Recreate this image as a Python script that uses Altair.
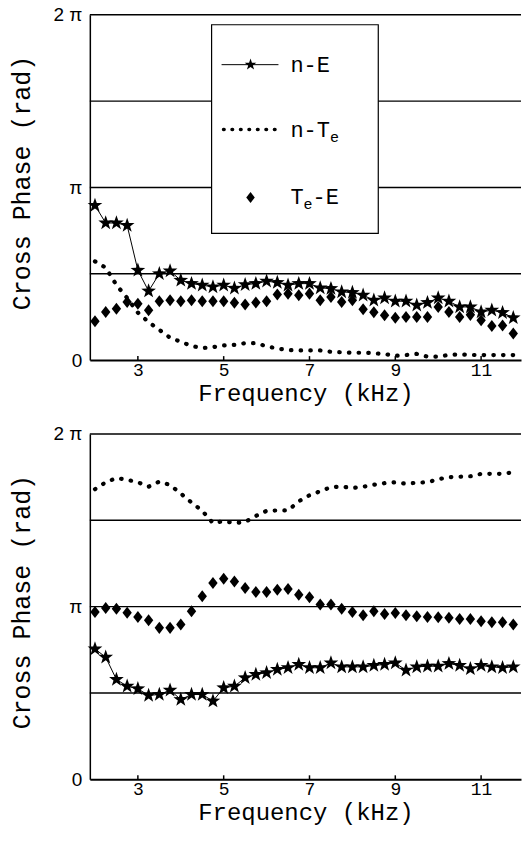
import altair as alt
import pandas as pd

# Frequency grid (kHz)
freq = [2.0, 2.25, 2.5, 2.75, 3.0, 3.25, 3.5, 3.75, 4.0, 4.25,
        4.5, 4.75, 5.0, 5.25, 5.5, 5.75, 6.0, 6.25, 6.5, 6.75,
        7.0, 7.25, 7.5, 7.75, 8.0, 8.25, 8.5, 8.75, 9.0, 9.25,
        9.5, 9.75, 10.0, 10.25, 10.5, 10.75, 11.0, 11.25, 11.5, 11.75]

# Cross phase in units of pi -- upper panel
top_ne = [0.896, 0.794, 0.794, 0.780, 0.520, 0.400, 0.500, 0.516, 0.462, 0.443,
          0.434, 0.424, 0.434, 0.416, 0.437, 0.443, 0.457, 0.449, 0.434, 0.443,
          0.443, 0.418, 0.414, 0.395, 0.391, 0.376, 0.347, 0.360, 0.341, 0.341,
          0.318, 0.333, 0.360, 0.341, 0.308, 0.308, 0.279, 0.289, 0.275, 0.245]
top_nte = [0.572, 0.535, 0.435, 0.360, 0.275, 0.220, 0.175, 0.130, 0.106, 0.082,
           0.070, 0.075, 0.085, 0.088, 0.098, 0.098, 0.080, 0.067, 0.058, 0.056,
           0.056, 0.056, 0.048, 0.045, 0.042, 0.043, 0.040, 0.035, 0.025, 0.029,
           0.036, 0.020, 0.020, 0.030, 0.033, 0.030, 0.029, 0.029, 0.029, 0.029]
top_tee = [0.225, 0.279, 0.298, 0.337, 0.327, 0.289, 0.341, 0.347, 0.341, 0.347,
           0.341, 0.341, 0.341, 0.332, 0.322, 0.333, 0.341, 0.380, 0.385, 0.376,
           0.385, 0.347, 0.366, 0.337, 0.347, 0.295, 0.277, 0.260, 0.245, 0.250,
           0.250, 0.250, 0.308, 0.279, 0.250, 0.262, 0.231, 0.198, 0.200, 0.154]

# Cross phase in units of pi -- lower panel
bot_ne = [0.755, 0.707, 0.578, 0.539, 0.524, 0.486, 0.491, 0.516, 0.462, 0.491,
          0.491, 0.453, 0.530, 0.539, 0.588, 0.607, 0.617, 0.636, 0.646, 0.665,
          0.646, 0.646, 0.674, 0.651, 0.651, 0.651, 0.659, 0.665, 0.674, 0.632,
          0.651, 0.655, 0.655, 0.670, 0.659, 0.640, 0.659, 0.651, 0.646, 0.651]
bot_nte = [1.680, 1.720, 1.745, 1.735, 1.720, 1.695, 1.724, 1.705, 1.655, 1.603,
           1.555, 1.484, 1.495, 1.484, 1.490, 1.525, 1.555, 1.557, 1.557, 1.610,
           1.645, 1.668, 1.692, 1.695, 1.687, 1.694, 1.706, 1.715, 1.720, 1.712,
           1.718, 1.720, 1.738, 1.750, 1.752, 1.755, 1.769, 1.769, 1.769, 1.778]
bot_tee = [0.969, 0.992, 0.988, 0.964, 0.940, 0.921, 0.877, 0.877, 0.896, 0.973,
           1.060, 1.137, 1.162, 1.145, 1.108, 1.085, 1.085, 1.098, 1.102, 1.069,
           1.054, 1.012, 1.012, 0.988, 0.969, 0.950, 0.973, 0.958, 0.963, 0.950,
           0.944, 0.940, 0.938, 0.935, 0.929, 0.929, 0.915, 0.909, 0.909, 0.896]

x_ticks = [3, 5, 7, 9, 11]
y_ticks = [0, 1, 2]
ref_levels = [0.5, 1.0, 1.5, 2.0]

W, H = 432, 346
MONO = "'Courier New', 'Liberation Mono', Courier, monospace"
STAR = ("M0,-1L0.235,-0.324L0.951,-0.309L0.380,0.124L0.588,0.809L0,0.4"
        "L-0.588,0.809L-0.380,0.124L-0.951,-0.309L-0.235,-0.324Z")
DIAMOND = "M0,-1L0.78,0L0,1L-0.78,0Z"

xscale = alt.Scale(domain=[1.88, 11.93], nice=False, zero=False)
yscale = alt.Scale(domain=[0, 2], nice=False, zero=False)

xaxis = alt.Axis(values=x_ticks, ticks=False, tickSize=0, grid=False,
                 domainColor="black", domainWidth=2,
                 labelFont=MONO, labelFontSize=18, labelColor="black",
                 labelPadding=1, labelFlush=False,
                 title="Frequency (kHz)", titleFont=MONO, titleFontSize=24,
                 titleFontWeight="normal", titleColor="black",
                 titleBaseline="alphabetic", titleY=40)
yaxis = alt.Axis(values=y_ticks, ticks=False, tickSize=0, grid=False,
                 domainColor="black", domainWidth=1.5,
                 labelExpr="datum.value == 0 ? '0' : datum.value == 1 ? 'π' : '2 π'",
                 labelFont="Liberation Sans", labelFontSize=19, labelColor="black",
                 labelPadding=8,
                 title="Cross Phase (rad)", titleFont=MONO, titleFontSize=25,
                 titleFontWeight="normal", titleColor="black",
                 titleAngle=270, titleAlign="center", titleBaseline="middle",
                 titleX=-68, titleY=168)


def panel(ne, nte, tee, legend=False):
    df = pd.DataFrame({"f": freq, "ne": ne, "nte": nte, "tee": tee})
    X = alt.X("f:Q", scale=xscale, axis=xaxis)

    rules = alt.Chart(pd.DataFrame({"lvl": ref_levels})).mark_rule(
        color="black", strokeWidth=1.4
    ).encode(y=alt.Y("lvl:Q", scale=yscale, axis=yaxis))

    ticks = alt.Chart(pd.DataFrame({"t": x_ticks})).mark_rule(
        color="black", strokeWidth=1.5
    ).encode(x=alt.X("t:Q", scale=xscale, axis=xaxis),
             y=alt.value(H), y2=alt.value(H - 4))

    dotted = alt.Chart(df).mark_line(
        color="black", strokeWidth=4.2, strokeCap="round", strokeDash=[0.5, 9.2]
    ).encode(x=X, y=alt.Y("nte:Q", scale=yscale, axis=yaxis))

    ne_line = alt.Chart(df).mark_line(color="black", strokeWidth=1).encode(
        x=X, y=alt.Y("ne:Q", scale=yscale, axis=yaxis))
    ne_pts = alt.Chart(df).mark_point(
        shape=STAR, filled=True, color="black", opacity=1, size=240
    ).encode(x=X, y=alt.Y("ne:Q", scale=yscale, axis=yaxis))

    tee_pts = alt.Chart(df).mark_point(
        shape=DIAMOND, filled=True, color="black", opacity=1, size=145
    ).encode(x=X, y=alt.Y("tee:Q", scale=yscale, axis=yaxis))

    layers = [rules, ticks, dotted, ne_line, ne_pts, tee_pts]

    if legend:
        one = alt.Chart(pd.DataFrame({"k": [0]}))
        box = one.mark_rect(fill="white", stroke="black", strokeWidth=1.2).encode(
            x=alt.value(122), x2=alt.value(289), y=alt.value(10), y2=alt.value(219))
        l1 = one.mark_rule(color="black", strokeWidth=1).encode(
            x=alt.value(132), x2=alt.value(189), y=alt.value(50))
        s1 = one.mark_point(shape=STAR, filled=True, color="black", opacity=1,
                            size=150).encode(x=alt.value(161), y=alt.value(50))
        l2 = one.mark_rule(color="black", strokeWidth=3.6, strokeCap="round",
                           strokeDash=[0.5, 8]).encode(
            x=alt.value(134), x2=alt.value(189), y=alt.value(115))
        s3 = one.mark_point(shape=DIAMOND, filled=True, color="black", opacity=1,
                            size=120).encode(x=alt.value(161), y=alt.value(183))

        def txt(s, x, y, size=22):
            return one.mark_text(text=s, font=MONO, fontSize=size, align="left",
                                 baseline="alphabetic", color="black").encode(
                x=alt.value(x), y=alt.value(y))

        layers += [box, l1, s1, l2, s3,
                   txt("n-E", 201, 57),
                   txt("n-T", 201, 122), txt("e", 240.6, 127, 15),
                   txt("T", 201, 190), txt("e", 214.2, 195, 15),
                   txt("-E", 223.2, 190)]

    return alt.layer(*layers).properties(width=W, height=H)


top = panel(top_ne, top_nte, top_tee, legend=True)
bottom = panel(bot_ne, bot_nte, bot_tee)

chart = alt.vconcat(top, bottom, spacing=20).properties(
    padding={"left": 10, "top": 5, "right": 0, "bottom": 5},
    background="white",
).configure_view(stroke=None)

chart.save("out.html", embed_options={"renderer": "svg", "actions": False})
